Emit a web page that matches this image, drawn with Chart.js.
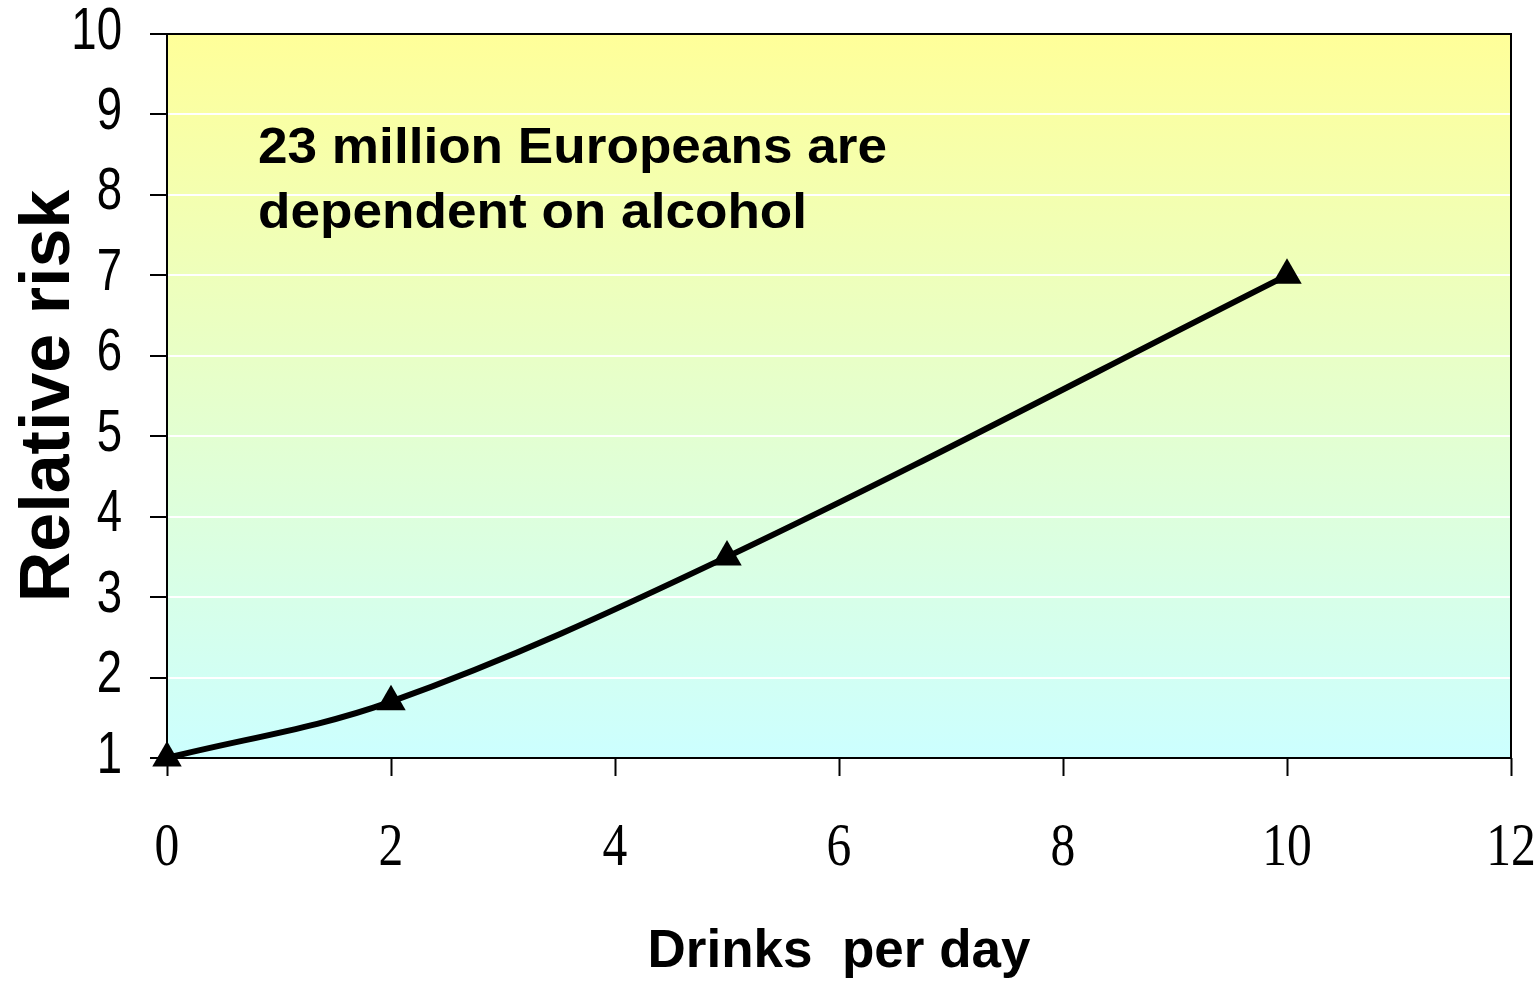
<!DOCTYPE html>
<html>
<head>
<meta charset="utf-8">
<title>Relative risk by drinks per day</title>
<script src="https://cdn.jsdelivr.net/npm/chart.js@4"></script>
<style>
    html, body { margin: 0; padding: 0; background: #fff; }
    #wrap { width: 1540px; height: 988px; position: relative; }
</style>
</head>
<body>
<div id="wrap"><canvas id="riskChart"></canvas></div>
<script>
// DATA
const drinks = [0, 2, 5, 10];
const relativeRisk = [1, 1.7, 3.5, 7];
const xTicks = [0, 2, 4, 6, 8, 10, 12];
const yTicks = [1, 2, 3, 4, 5, 6, 7, 8, 9, 10];
const noteLines = ['23 million Europeans are', 'dependent on alcohol'];
const xTitle = 'Drinks  per day';
const yTitle = 'Relative risk';

// gradient background + frame around the plot area
const plotBackground = {
    id: 'plotBackground',
    beforeDraw(chart) {
        const { ctx, chartArea: a } = chart;
        const g = ctx.createLinearGradient(0, a.top, 0, a.bottom);
        g.addColorStop(0, '#FFFF99');
        g.addColorStop(1, '#CCFFFF');
        ctx.save();
        ctx.fillStyle = g;
        ctx.fillRect(a.left, a.top, a.right - a.left, a.bottom - a.top);
        ctx.restore();
    },
    beforeDatasetsDraw(chart) {
        const { ctx, chartArea: a } = chart;
        ctx.save();
        ctx.strokeStyle = '#000';
        ctx.lineWidth = 2;
        ctx.strokeRect(a.left, a.top, a.right - a.left, a.bottom - a.top);
        ctx.restore();
    }
};

// tick labels are narrow in the original, so draw them squeezed
function squeezed(ctx, text, x, y, sx) {
    ctx.save();
    ctx.translate(x, y);
    ctx.scale(sx, 1);
    ctx.fillText(text, 0, 0);
    ctx.restore();
}

const extraText = {
    id: 'extraText',
    afterDraw(chart) {
        const { ctx } = chart;
        const { x, y } = chart.scales;
        ctx.save();
        ctx.fillStyle = '#000';

        ctx.font = '62px "Liberation Serif", serif';
        ctx.textAlign = 'center';
        ctx.textBaseline = 'alphabetic';
        xTicks.forEach(v => squeezed(ctx, String(v), x.getPixelForValue(v), 865, 0.8));

        ctx.font = '60px "Liberation Sans", Arial, sans-serif';
        ctx.textAlign = 'right';
        ctx.textBaseline = 'middle';
        yTicks.forEach(v => squeezed(ctx, String(v), 122, y.getPixelForValue(v) - 2, 0.76));

        ctx.font = 'bold 50px "Liberation Sans", Arial, sans-serif';
        ctx.textAlign = 'left';
        ctx.textBaseline = 'alphabetic';
        const sx = 629 / ctx.measureText(noteLines[0]).width;
        noteLines.forEach((t, i) => squeezed(ctx, t, 258, 163 + i * 65, sx));
        ctx.restore();
    }
};

new Chart(document.getElementById('riskChart'), {
    type: 'line',
    data: {
        datasets: [{
            data: drinks.map((d, i) => ({ x: d, y: relativeRisk[i] })),
            borderColor: '#000',
            borderWidth: 6,
            tension: 0.35,
            pointStyle: 'triangle',
            pointRadius: 17,
            pointHoverRadius: 17,
            pointBackgroundColor: '#000',
            pointBorderWidth: 0,
            clip: false
        }]
    },
    options: {
        responsive: true,
        maintainAspectRatio: false,
        animation: false,
        events: [],
        layout: { padding: { top: 34, right: 29, left: 0, bottom: 0 } },
        plugins: { legend: { display: false }, tooltip: { enabled: false } },
        scales: {
            x: {
                type: 'linear',
                min: 0,
                max: 12,
                afterBuildTicks: s => { s.ticks = xTicks.map(v => ({ value: v })); },
                afterFit: s => { s.height = 230; },
                border: { display: false },
                grid: { drawOnChartArea: false, tickLength: 18, tickColor: '#000', tickWidth: 2 },
                ticks: { display: false },
                title: {
                    display: true,
                    text: xTitle,
                    color: '#000',
                    padding: 4,
                    font: { family: '"Liberation Sans", Arial, sans-serif', size: 53, weight: 'bold' }
                }
            },
            y: {
                min: 1,
                max: 10,
                afterBuildTicks: s => { s.ticks = yTicks.map(v => ({ value: v })); },
                afterFit: s => { s.width = 167; },
                border: { display: false },
                grid: { color: '#FFFFFF', lineWidth: 2, tickLength: 17, tickColor: '#000', tickWidth: 2 },
                ticks: { display: false },
                title: {
                    display: true,
                    text: yTitle,
                    color: '#000',
                    padding: 8,
                    font: { family: '"Liberation Sans", Arial, sans-serif', size: 70, weight: 'bold' }
                }
            }
        }
    },
    plugins: [plotBackground, extraText]
});
</script>
</body>
</html>
